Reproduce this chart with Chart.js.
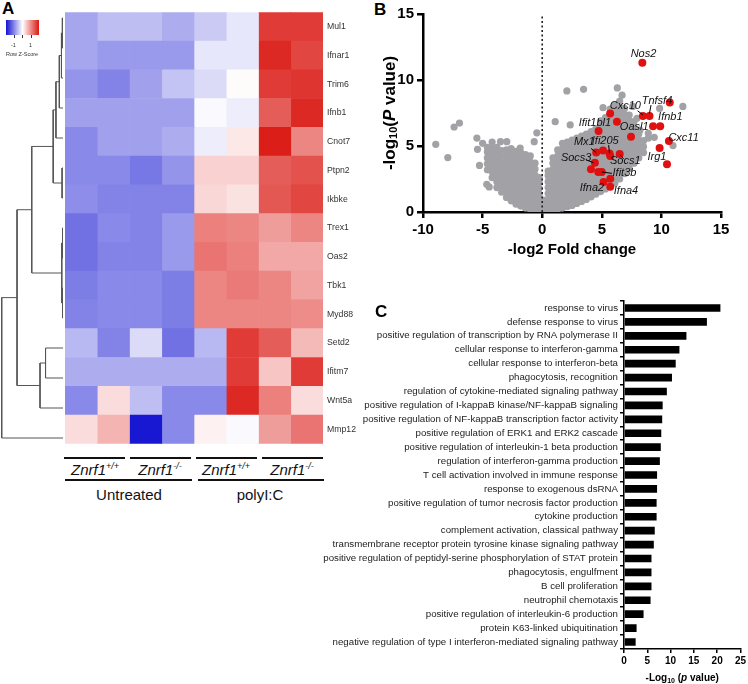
<!DOCTYPE html>
<html>
<head>
<meta charset="utf-8">
<script src="https://cdn.jsdelivr.net/npm/chart.js@4.4.1/dist/chart.umd.min.js"></script>
<style>
  body { margin: 0; width: 748px; height: 684px; background: #fff; position: relative; overflow: hidden;
         font-family: "Liberation Sans", Arial, sans-serif; color: #111; }
  canvas, .abs { position: absolute; }
  .panel { font-weight: bold; font-size: 17px; line-height: 17px; color: #000; }
  .hl { height: 2px; background: #111; }
  .grp { width: 70px; text-align: center; font-style: italic; font-size: 15px; line-height: 15px; white-space: nowrap; }
  .grp span { font-size: 9px; position: relative; top: -6px; }
  .cond { width: 120px; text-align: center; font-size: 15px; line-height: 15px; }
  .tiny { font-size: 5.5px; line-height: 6px; color: #333; white-space: nowrap; }
</style>
</head>
<body>
<div class="abs panel" style="left:2px;top:0px">A</div>
<div class="abs panel" style="left:374px;top:1px">B</div>

<canvas id="dendro" width="63" height="450" style="left:0;top:3px"></canvas>
<canvas id="heat" width="315" height="450" style="left:65px;top:3px"></canvas>

<div class="abs" style="left:6px;top:20px;width:33px;height:15px;background:linear-gradient(to right,#1212d2,#ffffff 50%,#da1812)"></div>
<div class="abs" style="left:14px;top:35px;width:1px;height:3px;background:#333"></div>
<div class="abs" style="left:22px;top:35px;width:1px;height:3px;background:#333"></div>
<div class="abs" style="left:31px;top:35px;width:1px;height:3px;background:#333"></div>
<div class="abs tiny" style="left:11px;top:42px">-1</div>
<div class="abs tiny" style="left:29px;top:42px">1</div>
<div class="abs tiny" style="left:6px;top:51px">Row Z-Score</div>

<div class="abs hl" style="left:64px;top:457px;width:61px"></div>
<div class="abs hl" style="left:130px;top:457px;width:61px"></div>
<div class="abs hl" style="left:196px;top:457px;width:61px"></div>
<div class="abs hl" style="left:262px;top:457px;width:61px"></div>
<div class="abs grp" style="left:60px;top:462px"><i>Znrf1</i><span>+/+</span></div>
<div class="abs grp" style="left:125px;top:462px"><i>Znrf1</i><span>-/-</span></div>
<div class="abs grp" style="left:191px;top:462px"><i>Znrf1</i><span>+/+</span></div>
<div class="abs grp" style="left:257px;top:462px"><i>Znrf1</i><span>-/-</span></div>
<div class="abs hl" style="left:65px;top:479px;width:127px"></div>
<div class="abs hl" style="left:198px;top:479px;width:126px"></div>
<div class="abs cond" style="left:69px;top:487px">Untreated</div>
<div class="abs cond" style="left:200px;top:487px">polyI:C</div>

<canvas id="volcano" width="368" height="265" style="left:380px;top:0"></canvas>
<canvas id="go" width="448" height="394" style="left:300px;top:290px"></canvas>
<div class="abs panel" style="left:375px;top:303px">C</div>

<script>
const FONT = "'Liberation Sans', Arial, sans-serif"
Chart.defaults.font.family = FONT
Chart.defaults.color = '#000'

// ---- panel A: heatmap ----
const genes = ['Mul1', 'Ifnar1', 'Trim6', 'Ifnb1', 'Cnot7', 'Ptpn2', 'Ikbke', 'Trex1',
  'Oas2', 'Tbk1', 'Myd88', 'Setd2', 'Ifitm7', 'Wnt5a', 'Mmp12']
const samples = ['WT untreated 1', 'WT untreated 2', 'KO untreated 1', 'KO untreated 2',
  'WT polyI:C 1', 'WT polyI:C 2', 'KO polyI:C 1', 'KO polyI:C 2']
// row z-scores, one array per gene (columns = samples)
const zScores = [
  [-0.75, -0.55, -0.55, -0.7, -0.45, -0.2, 1.7, 1.7],
  [-0.75, -0.85, -0.85, -0.85, -0.2, -0.2, 1.85, 1.6],
  [-0.9, -1.05, -0.8, -0.5, -0.3, 0.03, 1.7, 1.75],
  [-0.8, -0.8, -0.8, -0.8, -0.05, -0.15, 1.4, 1.85],
  [-1.0, -0.8, -0.8, -0.7, -0.15, 0.2, 1.95, 1.05],
  [-1.0, -1.0, -1.15, -0.9, 0.4, 0.4, 1.4, 1.5],
  [-0.95, -1.05, -1.05, -1.05, 0.35, 0.25, 1.45, 1.6],
  [-1.2, -1.0, -1.05, -0.85, 1.1, 1.05, 0.85, 1.05],
  [-1.2, -1.05, -1.05, -0.85, 1.2, 1.1, 0.75, 0.75],
  [-1.1, -1.0, -1.0, -1.1, 1.05, 1.15, 1.05, 0.8],
  [-1.05, -1.0, -1.0, -1.1, 1.05, 1.05, 1.05, 1.0],
  [-0.6, -1.05, -0.3, -1.2, -0.6, 1.7, 1.4, 0.6],
  [-0.7, -0.7, -0.7, -0.7, -0.7, 1.7, 0.5, 1.7],
  [-1.0, 0.3, -0.55, -1.0, -1.0, 1.85, 1.1, 0.3],
  [0.3, 0.65, -1.95, -1.0, 0.12, -0.05, 0.85, 1.2]
]
// hclust-style merges: negative = leaf (1-based row), positive = earlier merge
const dendroMerges = [
  [-1, -2, 0.1], [1, -3, 0.25], [2, -4, 0.6], [3, -5, 1.15],
  [-6, -7, 0.15], [4, 5, 1.6], [-8, -9, 0.08], [-10, -11, 0.08],
  [7, 8, 0.2], [6, 9, 5.1], [-12, -13, 2.85], [11, -14, 3.75],
  [10, 12, 7.5], [13, -15, 10.0]
]

function zColor(z) {
  const t = Math.min(1, Math.abs(z) / 2)
  const end = z < 0 ? [18, 18, 210] : [218, 24, 18]
  const c = end.map(v => Math.round(255 + (v - 255) * t))
  return `rgb(${c[0]},${c[1]},${c[2]})`
}

new Chart(document.getElementById('heat'), {
  type: 'bar',
  data: {
    labels: genes,
    datasets: samples.map((s, j) => ({
      label: s,
      data: genes.map(() => 1),
      backgroundColor: zScores.map(row => zColor(row[j])),
      borderWidth: 0,
      categoryPercentage: 1,
      barPercentage: 1
    }))
  },
  options: {
    indexAxis: 'y', responsive: false, animation: false,
    plugins: { legend: { display: false }, tooltip: { enabled: false } },
    scales: {
      x: { stacked: true, min: 0, max: 8, display: false },
      y: {
        stacked: true, position: 'right',
        grid: { display: false, drawTicks: false }, border: { display: false },
        ticks: { font: { size: 8.7 }, color: '#333', padding: 4, autoSkip: false },
        afterFit(s) { s.width = 57 }
      }
    }
  }
})

function dendroNode(k) {
  if (k < 0) return { y: -k - 1, h: 0 }
  const [a, b, h] = dendroMerges[k - 1]
  return { y: (dendroNode(a).y + dendroNode(b).y) / 2, h: h }
}

new Chart(document.getElementById('dendro'), {
  type: 'scatter',
  data: {
    datasets: dendroMerges.map(([a, b, h]) => {
      const A = dendroNode(a), B = dendroNode(b)
      return {
        data: [{ x: A.h, y: A.y }, { x: h, y: A.y }, { x: h, y: B.y }, { x: B.h, y: B.y }],
        showLine: true, pointRadius: 0, borderColor: '#555', borderWidth: 1, clip: false
      }
    })
  },
  options: {
    responsive: false, animation: false,
    plugins: { legend: { display: false }, tooltip: { enabled: false } },
    scales: {
      x: { type: 'linear', min: 0, max: 10.28, reverse: true, display: false },
      y: { type: 'linear', min: -0.5, max: 14.5, reverse: true, display: false }
    }
  }
})

// ---- panel B: volcano ----
const grayPoints = [
  [-8.93, 5.13], [-7.92, 4.12], [-7.39, 6.44], [-6.94, 6.74], [-5.48, 5.6], [-5.43, 4.75], [-5.26, 3.53],
  [-4.65, 2.1], [-4.45, 1.9], [-5.0, 5.2], [-0.45, 6.0], [-0.67, 5.33],
  [-4.6, 3.2], [-4.6, 3.65], [-4.6, 4.1], [-4.6, 4.55], [-4.6, 4.9],
  [-4.2, 2.6], [-4.2, 3.05], [-4.2, 3.5], [-4.2, 3.95], [-4.2, 4.4], [-4.2, 4.85], [-4.2, 5.3],
  [-3.8, 1.85], [-3.8, 2.3], [-3.8, 2.75], [-3.8, 3.2], [-3.8, 3.65], [-3.8, 4.1], [-3.8, 4.55], [-3.8, 4.9],
  [-3.4, 1.5], [-3.4, 1.95], [-3.4, 2.4], [-3.4, 2.85], [-3.4, 3.3], [-3.4, 3.75], [-3.4, 4.2], [-3.4, 4.65], [-3.5, 5.33],
  [-3.0, 1.1], [-3.0, 1.55], [-3.0, 2.0], [-3.0, 2.45], [-3.0, 2.9], [-3.0, 3.35], [-3.0, 3.8], [-3.0, 4.25], [-3.0, 4.7], [-2.97, 5.33],
  [-2.6, 0.85], [-2.6, 1.3], [-2.6, 1.75], [-2.6, 2.2], [-2.6, 2.65], [-2.6, 3.1], [-2.6, 3.55], [-2.6, 4.0], [-2.6, 4.45], [-2.6, 4.8],
  [-2.2, 0.6], [-2.2, 1.05], [-2.2, 1.5], [-2.2, 1.95], [-2.2, 2.4], [-2.2, 2.85], [-2.2, 3.3], [-2.2, 3.75], [-2.2, 4.2], [-2.2, 4.6],
  [-1.8, 0.45], [-1.8, 0.9], [-1.8, 1.35], [-1.8, 1.8], [-1.8, 2.25], [-1.8, 2.7], [-1.8, 3.15], [-1.8, 3.6], [-1.8, 4.05], [-1.8, 4.5], [-1.85, 4.85],
  [-1.4, 0.3], [-1.4, 0.75], [-1.4, 1.2], [-1.4, 1.65], [-1.4, 2.1], [-1.4, 2.55], [-1.4, 3.0], [-1.4, 3.45], [-1.4, 3.9], [-1.4, 4.35],
  [-1.0, 0.2], [-1.0, 0.65], [-1.0, 1.1], [-1.0, 1.55], [-1.0, 2.0], [-1.0, 2.45], [-1.0, 2.9], [-1.0, 3.35], [-1.0, 3.8], [-1.0, 4.25],
  [-0.6, 0.1], [-0.6, 0.55], [-0.6, 1.0], [-0.6, 1.45], [-0.6, 1.9], [-0.6, 2.35], [-0.6, 2.8], [-0.6, 3.25], [-0.6, 3.7],
  [-0.25, 0.0], [-0.25, 0.45], [-0.25, 0.9], [-0.25, 1.35], [-0.25, 1.8], [-0.25, 2.25], [-0.25, 2.6],
  [0.15, 0.0], [0.15, 0.45], [0.15, 0.9],
  [0.5, 0.05], [0.5, 0.5], [0.5, 0.95], [0.5, 1.4], [0.5, 1.85], [0.5, 2.3], [0.5, 2.75], [0.5, 3.1],
  [0.9, 0.1], [0.9, 0.55], [0.9, 1.0], [0.9, 1.45], [0.9, 1.9], [0.9, 2.35], [0.9, 2.8], [0.9, 3.25], [0.9, 3.7], [0.9, 4.1],
  [1.3, 0.2], [1.3, 0.65], [1.3, 1.1], [1.3, 1.55], [1.3, 2.0], [1.3, 2.45], [1.3, 2.9], [1.3, 3.35], [1.3, 3.8], [1.3, 4.25], [1.3, 4.7],
  [1.7, 0.3], [1.7, 0.75], [1.7, 1.2], [1.7, 1.65], [1.7, 2.1], [1.7, 2.55], [1.7, 3.0], [1.7, 3.45], [1.7, 3.9], [1.7, 4.35], [1.7, 4.8], [1.7, 5.2],
  [2.1, 0.4], [2.1, 0.85], [2.1, 1.3], [2.1, 1.75], [2.1, 2.2], [2.1, 2.65], [2.1, 3.1], [2.1, 3.55], [2.1, 4.0], [2.1, 4.45], [2.1, 4.9], [2.1, 5.3],
  [2.5, 0.5], [2.5, 0.95], [2.5, 1.4], [2.5, 1.85], [2.5, 2.3], [2.5, 2.75], [2.5, 3.2], [2.5, 3.65], [2.5, 4.1], [2.5, 4.55], [2.5, 5.0], [2.5, 5.45],
  [2.9, 0.65], [2.9, 1.1], [2.9, 1.55], [2.9, 2.0], [2.9, 2.45], [2.9, 2.9], [2.9, 3.35], [2.9, 3.8], [2.9, 4.25], [2.9, 4.7], [2.9, 5.15], [2.9, 5.6],
  [3.3, 0.8], [3.3, 1.25], [3.3, 1.7], [3.3, 2.15], [3.3, 2.6], [3.3, 3.05], [3.3, 3.5], [3.3, 3.95], [3.3, 4.4], [3.3, 4.85], [3.3, 5.3], [3.3, 5.75],
  [3.7, 0.95], [3.7, 1.4], [3.7, 1.85], [3.7, 2.3], [3.7, 2.75], [3.7, 3.2], [3.7, 3.65], [3.7, 4.1], [3.7, 4.55], [3.7, 5.0], [3.7, 5.45], [3.7, 5.9],
  [4.1, 1.15], [4.1, 1.6], [4.1, 2.05], [4.1, 2.5], [4.1, 2.95], [4.1, 3.4], [4.1, 3.85], [4.1, 4.3], [4.1, 4.75], [4.1, 5.2], [4.1, 5.65], [4.1, 6.1],
  [4.5, 1.35], [4.5, 1.8], [4.5, 2.25], [4.5, 2.7], [4.5, 3.15], [4.5, 3.6], [4.5, 4.05], [4.5, 4.5], [4.5, 4.95], [4.5, 5.4], [4.5, 5.85], [4.5, 6.3],
  [4.9, 1.55], [4.9, 2.0], [4.9, 2.45], [4.9, 2.9], [4.9, 3.35], [4.9, 3.8], [4.9, 4.25], [4.9, 4.7], [4.9, 5.15], [4.9, 5.6], [4.9, 6.05], [4.9, 6.5], [4.9, 6.9],
  [5.3, 1.75], [5.3, 2.2], [5.3, 2.65], [5.3, 3.1], [5.3, 3.55], [5.3, 4.0], [5.3, 4.45], [5.3, 4.9], [5.3, 5.35], [5.3, 5.8], [5.3, 6.25], [5.3, 6.7], [5.3, 7.15], [5.1, 7.9],
  [5.7, 1.95], [5.7, 2.4], [5.7, 2.85], [5.7, 3.3], [5.7, 3.75], [5.7, 4.2], [5.7, 4.65], [5.7, 5.1], [5.7, 5.55], [5.7, 6.0], [5.7, 6.45], [5.7, 6.9], [5.7, 7.35], [5.7, 7.8],
  [6.1, 2.2], [6.1, 2.65], [6.1, 3.1], [6.1, 3.55], [6.1, 4.0], [6.1, 4.45], [6.1, 4.9], [6.1, 5.35], [6.1, 5.8], [6.1, 6.25], [6.1, 6.7], [6.1, 7.15], [6.1, 7.6], [6.1, 8.1],
  [6.5, 2.5], [6.5, 2.95], [6.5, 3.4], [6.5, 3.85], [6.5, 4.3], [6.5, 4.75], [6.5, 5.2], [6.5, 5.65], [6.5, 6.1], [6.5, 6.55], [6.5, 7.0], [6.5, 7.45], [6.5, 7.9], [6.5, 8.4],
  [6.9, 2.9], [6.9, 3.35], [6.9, 3.8], [6.9, 4.25], [6.9, 4.7], [6.9, 5.15], [6.9, 5.6], [6.9, 6.05], [6.9, 6.5], [6.9, 6.95], [6.9, 7.4], [6.9, 7.85],
  [7.3, 3.3], [7.3, 3.75], [7.3, 4.2], [7.3, 4.65], [7.3, 5.1], [7.3, 5.55], [7.3, 6.0], [7.3, 6.45], [7.3, 6.9], [7.3, 7.35],
  [7.7, 3.7], [7.7, 4.15], [7.7, 4.6], [7.7, 5.05], [7.7, 5.5], [7.7, 5.95], [7.7, 6.4], [7.7, 6.85], [7.6, 8.0],
  [8.1, 4.1], [8.1, 4.55], [8.1, 5.0], [8.1, 5.45], [8.1, 5.9], [8.2, 6.2], [7.95, 7.1],
  [8.5, 4.5], [8.5, 4.95], [8.5, 5.4],
  [1.09, 6.84], [2.35, 6.6], [2.07, 9.17], [3.47, 9.29], [6.3, 9.4], [6.7, 8.85],
  [8.9, 5.96], [8.9, 5.6], [9.4, 5.66], [9.85, 7.85], [11.8, 8.0], [10.97, 5.03]
]
const redPoints = [
  [8.4, 11.3], [10.7, 8.3], [8.45, 7.27], [9.0, 7.27], [5.7, 7.47], [6.27, 6.84], [4.73, 6.13],
  [9.3, 6.5], [9.9, 6.5], [7.45, 5.7], [10.63, 5.38], [9.85, 4.85], [10.47, 3.61],
  [4.53, 4.5], [5.1, 4.65], [5.65, 4.44], [5.71, 4.24], [6.5, 4.39], [4.42, 3.74], [4.09, 3.23],
  [4.7, 3.03], [5.0, 3.03], [5.71, 2.52], [5.15, 2.27], [5.71, 1.92]
]
const geneLabels = [
  ['Nos2', 8.5, 12.0], ['Tnfsf4', 9.63, 8.43], ['Cxc10', 6.97, 8.05], ['Ifnb1', 10.75, 7.17],
  ['Ifit1bl1', 4.42, 6.72], ['Oasl1', 7.72, 6.46], ['Cxc11', 11.86, 5.63], ['Ifi205', 5.29, 5.38],
  ['Mx1', 3.53, 5.28], ['Irg1', 9.63, 4.19], ['Socs3', 2.85, 4.11], ['Socs1', 6.97, 3.86],
  ['Ifit3b', 6.9, 2.93], ['Ifna2', 4.17, 1.8], ['Ifna4', 7.03, 1.61]
]
const leaderLines = [
  [8.0, 7.67, 8.45, 7.35], [9.13, 8.1, 9.0, 7.47], [4.09, 4.82, 4.53, 4.5], [5.57, 5.07, 5.65, 4.44],
  [6.55, 4.32, 6.83, 4.04], [3.7, 3.94, 4.3, 3.74], [5.85, 2.93, 5.0, 3.03]
]

function drawParts(ctx, parts, cx, cy, rot) {
  ctx.save()
  ctx.translate(cx, cy)
  ctx.rotate(rot)
  let total = 0
  parts.forEach(p => { ctx.font = p[1]; total += ctx.measureText(p[0]).width })
  let x = -total / 2
  ctx.textBaseline = 'middle'
  ctx.textAlign = 'left'
  ctx.fillStyle = '#000'
  parts.forEach(p => { ctx.font = p[1]; ctx.fillText(p[0], x, p[2]); x += ctx.measureText(p[0]).width })
  ctx.restore()
}

const volcanoExtras = {
  id: 'volcanoExtras',
  afterDatasetsDraw(chart) {
    const { ctx, scales: { x, y } } = chart
    ctx.save()
    ctx.strokeStyle = '#000'
    ctx.lineWidth = 1
    leaderLines.forEach(([x1, y1, x2, y2]) => {
      ctx.beginPath()
      ctx.moveTo(x.getPixelForValue(x1), y.getPixelForValue(y1))
      ctx.lineTo(x.getPixelForValue(x2), y.getPixelForValue(y2))
      ctx.stroke()
    })
    ctx.font = 'italic 11px ' + FONT
    ctx.fillStyle = '#111'
    ctx.textAlign = 'center'
    ctx.textBaseline = 'middle'
    geneLabels.forEach(([t, lx, ly]) => ctx.fillText(t, x.getPixelForValue(lx), y.getPixelForValue(ly)))
    ctx.restore()
  },
  afterDraw(chart) {
    const a = chart.chartArea
    drawParts(chart.ctx, [
      ['-log', 'bold 17px ' + FONT, 0],
      ['10', 'bold 11px ' + FONT, 4],
      ['(', 'bold 17px ' + FONT, 0],
      ['P', 'italic bold 17px ' + FONT, 0],
      [' value)', 'bold 17px ' + FONT, 0]
    ], 10, (a.top + a.bottom) / 2, -Math.PI / 2)
  }
}

const axisStyle = (tl, lw) => ({
  grid: { drawOnChartArea: false, tickLength: tl, color: '#000', lineWidth: lw },
  border: { color: '#000', width: lw }
})

new Chart(document.getElementById('volcano'), {
  type: 'scatter',
  data: {
    datasets: [
      { type: 'line', data: [{ x: 0, y: 0 }, { x: 0, y: 15 }], borderColor: '#222', borderWidth: 1.6,
        borderDash: [2, 2.5], pointRadius: 0 },
      { data: redPoints.map(([x, y]) => ({ x, y })), backgroundColor: '#e01010', pointRadius: 4,
        pointBorderWidth: 0 },
      { data: grayPoints.map(([x, y]) => ({ x, y })), backgroundColor: '#a2a2a6', pointRadius: 3.6,
        pointBorderWidth: 0 }
    ]
  },
  options: {
    responsive: false, animation: false,
    layout: { padding: { top: 14, right: 27 } },
    plugins: { legend: { display: false }, tooltip: { enabled: false } },
    scales: {
      x: {
        type: 'linear', min: -10, max: 15, ...axisStyle(6, 2.5),
        ticks: { stepSize: 5, font: { weight: 'bold', size: 15 }, color: '#000', padding: 3, maxRotation: 0 },
        title: { display: true, text: '-log2 Fold change', font: { weight: 'bold', size: 15 }, color: '#000',
          padding: { top: 0, bottom: 6 } },
        afterFit(s) { s.height = 53 }
      },
      y: {
        type: 'linear', min: 0, max: 15, ...axisStyle(6, 2.5),
        ticks: { stepSize: 5, font: { weight: 'bold', size: 15 }, color: '#000', padding: 3 },
        afterFit(s) { s.width = 43 }
      }
    }
  },
  plugins: [volcanoExtras]
})

// ---- panel C: GO terms ----
const goTerms = [
  'response to virus',
  'defense response to virus',
  'positive regulation of transcription by RNA polymerase II',
  'cellular response to interferon-gamma',
  'cellular response to interferon-beta',
  'phagocytosis, recognition',
  'regulation of cytokine-mediated signaling pathway',
  'positive regulation of I-kappaB kinase/NF-kappaB signaling',
  'positive regulation of NF-kappaB transcription factor activity',
  'positive regulation of ERK1 and ERK2 cascade',
  'positive regulation of interleukin-1 beta production',
  'regulation of interferon-gamma production',
  'T cell activation involved in immune response',
  'response to exogenous dsRNA',
  'positive regulation of tumor necrosis factor production',
  'cytokine production',
  'complement activation, classical pathway',
  'transmembrane receptor protein tyrosine kinase signaling pathway',
  'positive regulation of peptidyl-serine phosphorylation of STAT protein',
  'phagocytosis, engulfment',
  'B cell proliferation',
  'neutrophil chemotaxis',
  'positive regulation of interleukin-6 production',
  'protein K63-linked ubiquitination',
  'negative regulation of type I interferon-mediated signaling pathway'
]
const goScores = [20.7, 17.8, 13.4, 11.9, 11.1, 10.3, 9.2, 8.3, 8.2, 8.0, 7.9, 7.7, 7.1, 7.1, 7.0,
  7.0, 6.6, 6.4, 5.9, 5.9, 5.9, 5.7, 4.2, 2.7, 2.5]

const goTitle = {
  id: 'goTitle',
  afterDraw(chart) {
    const a = chart.chartArea
    drawParts(chart.ctx, [
      ['-Log', 'bold 10px ' + FONT, 0],
      ['10', 'bold 7px ' + FONT, 3],
      [' (', 'bold 10px ' + FONT, 0],
      ['p', 'italic bold 10px ' + FONT, 0],
      [' value)', 'bold 10px ' + FONT, 0]
    ], (a.left + a.right) / 2, 388, 0)
  }
}

new Chart(document.getElementById('go'), {
  type: 'bar',
  data: {
    labels: goTerms,
    datasets: [{ data: goScores, backgroundColor: '#000', barPercentage: 0.55, categoryPercentage: 1 }]
  },
  options: {
    indexAxis: 'y', responsive: false, animation: false,
    layout: { padding: { top: 11, right: 7 } },
    plugins: { legend: { display: false }, tooltip: { enabled: false } },
    scales: {
      x: {
        min: 0, max: 25, ...axisStyle(4, 1.5),
        ticks: { stepSize: 5, font: { weight: 'bold', size: 10 }, color: '#000', padding: 2, maxRotation: 0 },
        afterFit(s) { s.height = 35 }
      },
      y: {
        ...axisStyle(4, 1.5),
        ticks: { font: { size: 9.7 }, color: '#222', padding: 2, autoSkip: false },
        afterFit(s) { s.width = 324 }
      }
    }
  },
  plugins: [goTitle]
})
</script>
</body>
</html>
